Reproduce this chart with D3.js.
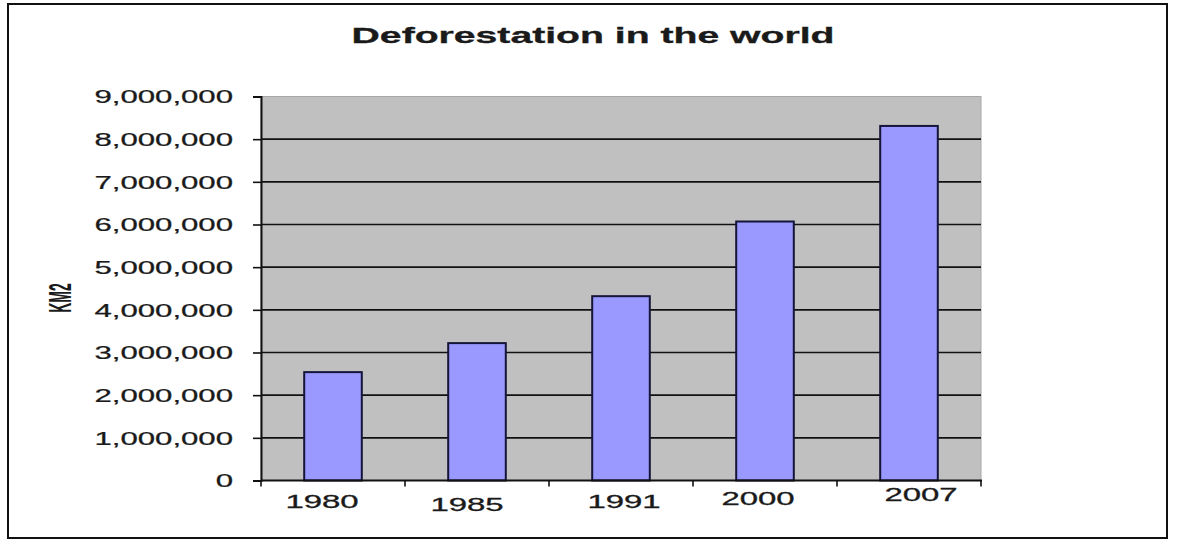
<!DOCTYPE html>
<html>
<head>
<meta charset="utf-8">
<script src="https://cdn.jsdelivr.net/npm/d3@7"></script>
<style>
  html, body { margin: 0; padding: 0; background: #fff; }
  svg { display: block; }
  text { font-family: "Liberation Sans", Arial, sans-serif; fill: #1a1a1a; }
</style>
</head>
<body>
<svg id="chart" width="1184" height="541"></svg>
<script>
// ---- data ----
const years = ["1980", "1985", "1991", "2000", "2007"];
const deforestedKm2 = [2540000, 3220000, 4320000, 6070000, 8310000];
const yTicks = [0, 1000000, 2000000, 3000000, 4000000, 5000000, 6000000, 7000000, 8000000, 9000000];
const chartTitle = "Deforestation in the world";
const yAxisTitle = "KM2";

// ---- layout / style ----
const plot = { left: 261, right: 981, top: 96.5, bottom: 480.5 };
const SX = 1.78; // horizontal stretch of the original picture's text
// small hand-placement offsets of the category labels seen in the original
const labelNudgeX = [-11, -10, 3, -7, 12];
const labelNudgeY = [1, 3.5, 0.5, -2, -6];

const svg = d3.select("#chart");

// outer frame
svg.append("rect")
  .attr("x", 8).attr("y", 4)
  .attr("width", 1159).attr("height", 534)
  .attr("fill", "#fff").attr("stroke", "#111").attr("stroke-width", 2);

const x = d3.scaleBand().domain(years)
  .range([plot.left, plot.right])
  .paddingInner(0.6).paddingOuter(0.3);
const y = d3.scaleLinear().domain([0, 9000000]).range([plot.bottom, plot.top]);

// plot background
svg.append("rect")
  .attr("x", plot.left).attr("y", plot.top)
  .attr("width", plot.right - plot.left).attr("height", plot.bottom - plot.top)
  .attr("fill", "#c0c0c0").attr("stroke", "#a8a8a8").attr("stroke-width", 1);

// gridlines
svg.append("g").selectAll("line")
  .data(yTicks.filter(d => d > 0 && d < 9000000))
  .join("line")
  .attr("x1", plot.left).attr("x2", plot.right)
  .attr("y1", d => y(d)).attr("y2", d => y(d))
  .attr("stroke", "#111").attr("stroke-width", 1.6);

// bars
svg.append("g").selectAll("rect")
  .data(years.map((yr, i) => ({ yr, v: deforestedKm2[i] })))
  .join("rect")
  .attr("x", d => x(d.yr))
  .attr("y", d => y(d.v))
  .attr("width", x.bandwidth())
  .attr("height", d => y(0) - y(d.v))
  .attr("fill", "#9999ff")
  .attr("stroke", "#15153a").attr("stroke-width", 2);

// y axis
const yAxis = d3.axisLeft(y).tickValues(yTicks).tickSize(8).tickPadding(0)
  .tickFormat(d3.format(","));
const gy = svg.append("g").attr("transform", `translate(${plot.left},0)`).call(yAxis);
gy.select(".domain").attr("stroke", "#111").attr("stroke-width", 2);
gy.selectAll(".tick line").attr("stroke", "#111").attr("stroke-width", 1.6);
gy.selectAll(".tick text")
  .attr("x", null).attr("dy", null)
  .attr("text-anchor", "end")
  .attr("dominant-baseline", "central")
  .attr("transform", `translate(-28,0) scale(${SX},1)`)
  .style("font-size", "17.5px")
  .style("font-family", "'Liberation Sans', Arial, sans-serif")
  .attr("fill", "#1a1a1a")
  .attr("stroke", "#1a1a1a").attr("stroke-width", 0.25);

// x axis (ticks at category boundaries)
const gx = svg.append("g").attr("transform", `translate(0,${plot.bottom})`);
gx.append("line")
  .attr("x1", plot.left).attr("x2", plot.right + 1)
  .attr("stroke", "#111").attr("stroke-width", 2);
const boundaries = years.map((yr, i) => i === 0 ? plot.left : x(yr) - (x.step() - x.bandwidth()) / 2)
  .concat([plot.right]);
gx.selectAll("line.tk").data(boundaries).join("line").attr("class", "tk")
  .attr("x1", d => d).attr("x2", d => d)
  .attr("y1", 0).attr("y2", 6)
  .attr("stroke", "#111").attr("stroke-width", 1.6);
gx.selectAll("text").data(years).join("text")
  .attr("text-anchor", "middle")
  .attr("dominant-baseline", "central")
  .attr("transform", (d, i) => `translate(${x(d) + x.bandwidth() / 2 + labelNudgeX[i]},${20.5 + labelNudgeY[i]}) scale(${SX},1)`)
  .style("font-size", "18.5px")
  .attr("stroke", "#1a1a1a").attr("stroke-width", 0.3)
  .text(d => d);

// title
svg.append("text")
  .attr("text-anchor", "middle")
  .attr("dominant-baseline", "central")
  .attr("transform", `translate(593,35) scale(${SX},1)`)
  .style("font-size", "22px").style("font-weight", "bold")
  .attr("stroke", "#1a1a1a").attr("stroke-width", 0.3)
  .text(chartTitle);

// y axis title
svg.append("text")
  .attr("text-anchor", "middle")
  .attr("dominant-baseline", "central")
  .attr("transform", `translate(60,298) scale(2.2,1) rotate(-90)`)
  .style("font-size", "14px").style("font-weight", "bold")
  .text(yAxisTitle);
</script>
</body>
</html>
